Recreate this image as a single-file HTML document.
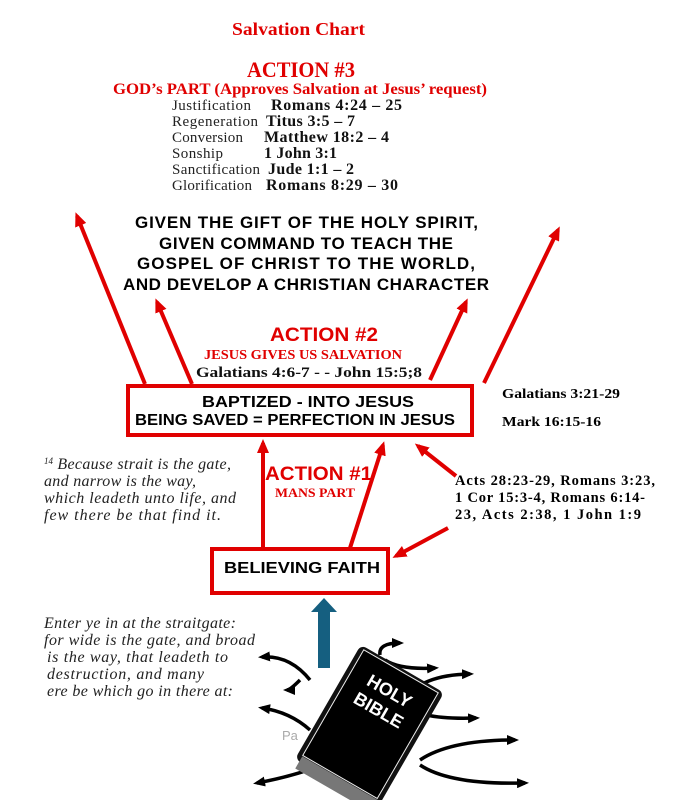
<!DOCTYPE html>
<html><head><meta charset="utf-8"><style>
html,body{margin:0;padding:0;background:#fff}
svg{display:block}
.s{font-family:"Liberation Serif",serif;font-weight:bold}
.a{font-family:"Liberation Sans",sans-serif;font-weight:bold}
.i{font-family:"Liberation Serif",serif;font-style:italic;font-size:16px;fill:#222}
</style></head><body>
<svg width="675" height="800" viewBox="0 0 675 800" xmlns="http://www.w3.org/2000/svg">
<defs>
<marker id="r" markerWidth="14" markerHeight="12" refX="10" refY="6" orient="auto" markerUnits="userSpaceOnUse" viewBox="0 0 14 12"><path d="M0,0 L14,6 L0,12 z" fill="#e00000"/></marker>
<marker id="b" markerWidth="12" markerHeight="10" refX="8" refY="5" orient="auto" markerUnits="userSpaceOnUse" viewBox="0 0 12 10"><path d="M0,0 L12,5 L0,10 z" fill="#000"/></marker>
</defs>
<text x="232" y="35" textLength="133" lengthAdjust="spacingAndGlyphs" class="s" font-size="18" fill="#e00000">Salvation Chart</text>
<text x="247" y="77" textLength="108" lengthAdjust="spacingAndGlyphs" class="s" font-size="22" fill="#e00000">ACTION #3</text>
<text x="113" y="94" textLength="374" lengthAdjust="spacingAndGlyphs" class="s" font-size="16" fill="#e00000">GOD’s PART (Approves Salvation at Jesus’ request)</text>
<g font-family="Liberation Serif,serif" font-size="15" fill="#222" lengthAdjust="spacingAndGlyphs">
<text x="172" y="110" textLength="79">Justification</text><text x="172" y="126" textLength="86">Regeneration</text><text x="172" y="142" textLength="71">Conversion</text><text x="172" y="158" textLength="51">Sonship</text><text x="172" y="174" textLength="88">Sanctification</text><text x="172" y="190" textLength="80">Glorification</text>
</g>
<g class="s" font-size="16" fill="#111" lengthAdjust="spacingAndGlyphs">
<text x="271" y="110" textLength="131">Romans 4:24 – 25</text><text x="266" y="126" textLength="89">Titus 3:5 – 7</text><text x="264" y="142" textLength="125">Matthew 18:2 – 4</text><text x="264" y="158" textLength="73">1 John 3:1</text><text x="268" y="174" textLength="86">Jude 1:1 – 2</text><text x="266" y="190" textLength="132">Romans 8:29 – 30</text>
</g>
<g class="a" font-size="17" fill="#000" lengthAdjust="spacingAndGlyphs">
<text x="135" y="228" textLength="343">GIVEN THE GIFT OF THE HOLY SPIRIT,</text>
<text x="159" y="249" textLength="294">GIVEN COMMAND TO TEACH THE</text>
<text x="137" y="269" textLength="338">GOSPEL OF CHRIST TO THE WORLD,</text>
<text x="123" y="290" textLength="366">AND DEVELOP A CHRISTIAN CHARACTER</text>
</g>
<text x="270" y="341" textLength="108" lengthAdjust="spacingAndGlyphs" class="a" font-size="19" fill="#e00000">ACTION #2</text>
<text x="204" y="359" textLength="198" lengthAdjust="spacingAndGlyphs" class="s" font-size="14" fill="#e00000">JESUS GIVES US SALVATION</text>
<text x="196" y="377" textLength="226" lengthAdjust="spacingAndGlyphs" class="s" font-size="15" fill="#111">Galatians 4:6-7 - - John 15:5;8</text>
<rect x="128" y="386" width="344" height="49" fill="none" stroke="#e00000" stroke-width="4"/>
<text x="202" y="407" textLength="212" lengthAdjust="spacingAndGlyphs" class="a" font-size="15.5">BAPTIZED - INTO JESUS</text>
<text x="135" y="425" textLength="320" lengthAdjust="spacingAndGlyphs" class="a" font-size="15.5">BEING SAVED = PERFECTION IN JESUS</text>
<text x="502" y="398" textLength="118" lengthAdjust="spacingAndGlyphs" class="s" font-size="14">Galatians 3:21-29</text>
<text x="502" y="426" textLength="99" lengthAdjust="spacingAndGlyphs" class="s" font-size="14">Mark 16:15-16</text>
<text x="265" y="480" textLength="107" lengthAdjust="spacingAndGlyphs" class="a" font-size="19" fill="#e00000">ACTION #1</text>
<text x="275" y="497" textLength="80" lengthAdjust="spacingAndGlyphs" class="s" font-size="13" fill="#e00000">MANS PART</text>
<g class="s" font-size="14.5" lengthAdjust="spacingAndGlyphs"><text x="455" y="485" textLength="200">Acts 28:23-29, Romans 3:23,</text><text x="455" y="502" textLength="190">1 Cor 15:3-4, Romans 6:14-</text><text x="455" y="519" textLength="186">23, Acts 2:38, 1 John 1:9</text></g>
<g class="i" lengthAdjust="spacingAndGlyphs"><text x="44" y="469"><tspan font-size="9" dy="-5">14</tspan><tspan dy="5" textLength="178"> Because strait is the gate,</tspan></text><text x="44" y="486" textLength="152">and narrow is the way,</text><text x="44" y="503" textLength="192">which leadeth unto life, and</text><text x="44" y="520" textLength="177">few there be that find it.</text></g>
<rect x="212" y="549" width="176" height="44" fill="none" stroke="#e00000" stroke-width="4"/>
<text x="224" y="573" textLength="156" lengthAdjust="spacingAndGlyphs" class="a" font-size="16">BELIEVING FAITH</text>
<g class="i" lengthAdjust="spacingAndGlyphs"><text x="44" y="628" textLength="192">Enter ye in at the straitgate:</text><text x="44" y="645" textLength="211">for wide is the gate, and broad</text><text x="47" y="662" textLength="181">is the way, that leadeth to</text><text x="47" y="679" textLength="157">destruction, and many</text><text x="47" y="696" textLength="186">ere be which go in there at:</text></g>
<g stroke="#e00000" stroke-width="4" fill="none" marker-end="url(#r)">
<line x1="145" y1="384" x2="77" y2="216"/>
<line x1="192" y1="384" x2="157" y2="302"/>
<line x1="430" y1="380" x2="466" y2="302"/>
<line x1="484" y1="383" x2="558" y2="230"/>
<line x1="263" y1="548" x2="263" y2="443"/>
<line x1="350" y1="548" x2="383" y2="445"/>
<line x1="448" y1="528" x2="396" y2="556"/>
<line x1="456" y1="476" x2="418" y2="446"/>
</g>
<rect x="318" y="610" width="12" height="58" fill="#155f80"/>
<path d="M311,612 L324,598 L337,612 z" fill="#155f80"/>
<text x="282" y="740" font-family="Liberation Sans,sans-serif" font-size="13" fill="#aaa">Pa</text>
<g stroke="#000" stroke-width="3.5" fill="none" marker-end="url(#b)">
<path d="M310,680 Q290,655 262,657"/><path d="M300,680 Q290,690 287,690"/>
<path d="M310,730 Q290,712 262,708"/><path d="M335,760 Q300,775 257,783"/>
<path d="M380,655 Q378,643 400,643"/><path d="M385,660 Q400,670 435,668"/>
<path d="M405,700 Q420,675 470,674"/><path d="M405,705 Q420,720 476,718"/>
<path d="M420,760 Q450,740 515,740"/><path d="M420,765 Q450,785 525,783"/>
</g>
<g transform="rotate(30 370 725)">
<rect x="322" y="660" width="96" height="132" rx="6" fill="#111"/>
<rect x="327" y="663" width="86" height="122" fill="#000" stroke="#eee" stroke-width="1"/>
<text x="370" y="692" text-anchor="middle" class="a" font-size="18" fill="#fff">HOLY</text>
<text x="370" y="714" text-anchor="middle" class="a" font-size="18" fill="#fff">BIBLE</text>
<rect x="327" y="786" width="91" height="14" fill="#777"/>
</g>
</svg>
</body></html>
